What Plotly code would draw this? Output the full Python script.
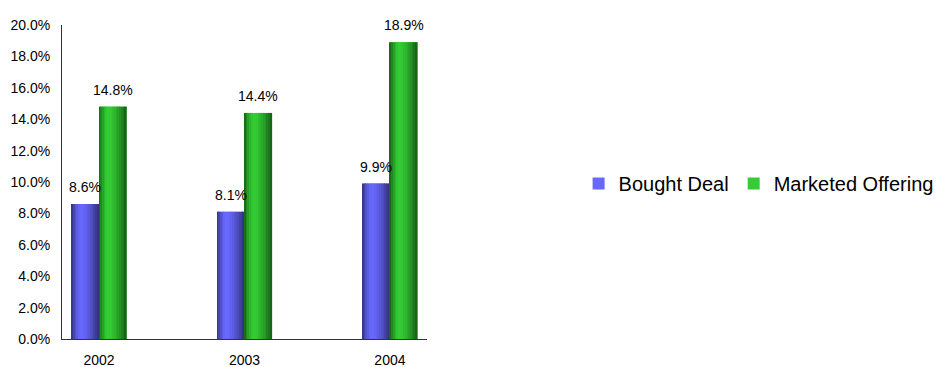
import plotly.graph_objects as go

years = ["2002", "2003", "2004"]
bought_deal = [8.6, 8.1, 9.9]
marketed_offering = [14.8, 14.4, 18.9]
y_ticks = [0, 2, 4, 6, 8, 10, 12, 14, 16, 18, 20]

FONT = "Liberation Sans, Arial, sans-serif"
BAR_W = 0.189
N_STRIPS = 16


def shade(light, dark, t):
    # cylindrical shading: brightest at ~35% across the bar
    peak = 0.35
    if t <= peak:
        u = (peak - t) / peak
    else:
        u = (t - peak) / (1 - peak)
    k = u ** 1.6
    r, g, b = (round(light[i] + (dark[i] - light[i]) * k) for i in range(3))
    return f"rgb({r},{g},{b})"


series = [
    ("Bought Deal", bought_deal, (104, 104, 255), (48, 48, 120), -BAR_W),
    ("Marketed Offering", marketed_offering, (52, 205, 52), (22, 92, 22), 0.0),
]

fig = go.Figure()
for name, vals, light, dark, off in series:
    fig.add_trace(go.Bar(
        x=years, y=vals, name=name, width=BAR_W, offset=off,
        marker=dict(color=shade(light, dark, 0.35), line=dict(width=0)),
        hoverinfo="skip",
    ))
    sw = BAR_W / N_STRIPS
    for i in range(N_STRIPS):
        t = (i + 0.5) / N_STRIPS
        fig.add_trace(go.Bar(
            x=years, y=vals, width=sw * 1.08, offset=off + i * sw,
            marker=dict(color=shade(light, dark, t), line=dict(width=0)),
            showlegend=False, hoverinfo="skip",
        ))
    for xi, v in enumerate(vals):
        fig.add_annotation(
            x=xi + off + BAR_W / 2, y=v, text=f"{v:.1f}%", showarrow=False,
            yshift=17, yanchor="middle", xanchor="center",
            font=dict(family=FONT, size=14, color="#000000"),
        )

fig.update_layout(
    width=937, height=367,
    margin=dict(l=62, r=510, t=25, b=28, autoexpand=False),
    barmode="overlay",
    plot_bgcolor="white", paper_bgcolor="white",
    font=dict(family=FONT, size=14, color="#000000"),
    showlegend=True,
    legend=dict(
        orientation="h", xref="container", yref="container",
        x=0.6175, y=0.5, xanchor="left", yanchor="middle",
        font=dict(family=FONT, size=20, color="#000000"),
        itemwidth=30, bgcolor="rgba(0,0,0,0)",
    ),
    xaxis=dict(
        range=[-0.255, 2.255], showgrid=False, zeroline=False,
        showline=True, linecolor="#333333", linewidth=1,
        ticks="", ticklabelstandoff=8, fixedrange=True,
    ),
    yaxis=dict(
        range=[0, 20], tickvals=y_ticks,
        ticktext=[f"{v:.1f}%" for v in y_ticks],
        showgrid=False, zeroline=False,
        showline=True, linecolor="#333333", linewidth=1,
        ticks="", ticklabelstandoff=8, fixedrange=True,
    ),
)

fig.write_html("out.html")
